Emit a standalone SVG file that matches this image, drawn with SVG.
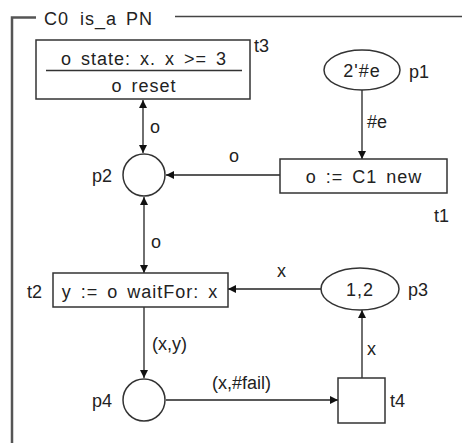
<svg xmlns="http://www.w3.org/2000/svg" width="468" height="443" viewBox="0 0 468 443">
<defs>
<marker id="ah" viewBox="0 0 10 10" refX="10" refY="5" markerWidth="9" markerHeight="8" markerUnits="userSpaceOnUse" orient="auto-start-reverse">
<path d="M0,0 L10,5 L0,10 z" fill="#111"/>
</marker>
</defs>
<style>
text{font-family:"Liberation Sans",Arial,sans-serif;font-size:18px;fill:#222}
.c{text-anchor:middle;letter-spacing:1px;word-spacing:3px}
.n{fill:#fff;stroke:#333;stroke-width:1.5}
.e{fill:none;stroke:#222;stroke-width:1.3}
</style>
<rect width="468" height="443" fill="#fff"/>
<g id="frame">
<path d="M12,443 V17.5 H36" fill="none" stroke="#555" stroke-width="2.5"/>
<path d="M175,16.5 H462" fill="none" stroke="#444" stroke-width="1.3"/>
<text y="25" style="letter-spacing:1px"><tspan x="44">C0</tspan><tspan x="80">is_a</tspan><tspan x="126">PN</tspan></text>
</g>
<g id="connectors">
<line class="e" x1="143" y1="100" x2="143" y2="153" marker-start="url(#ah)" marker-end="url(#ah)"/>
<line class="e" x1="362" y1="90" x2="362" y2="159" marker-end="url(#ah)"/>
<line class="e" x1="280" y1="175" x2="166" y2="175" marker-end="url(#ah)"/>
<line class="e" x1="144" y1="197" x2="144" y2="273" marker-start="url(#ah)" marker-end="url(#ah)"/>
<line class="e" x1="321" y1="289" x2="228" y2="289" marker-end="url(#ah)"/>
<line class="e" x1="144" y1="307" x2="144" y2="378" marker-end="url(#ah)"/>
<line class="e" x1="166" y1="400" x2="338" y2="400" marker-end="url(#ah)"/>
<line class="e" x1="362" y1="378" x2="362" y2="310" marker-end="url(#ah)"/>
<text x="150" y="133">o</text>
<text x="367" y="128">#e</text>
<text x="229" y="162">o</text>
<text x="151" y="248">o</text>
<text x="277" y="277">x</text>
<text x="152" y="350">(x,y)</text>
<text x="212" y="389">(x,#fail)</text>
<text x="367" y="355">x</text>
</g>
<g id="t3">
<rect class="n" x="36" y="40" width="214" height="59"/>
<line x1="46" y1="70.5" x2="242" y2="70.5" stroke="#333" stroke-width="1.5"/>
<text class="c" x="144" y="65">o state: x. x &gt;= 3</text>
<text class="c" x="144" y="92">o reset</text>
<text x="254" y="52">t3</text>
</g>
<g id="p1">
<ellipse class="n" cx="362" cy="70" rx="38" ry="20"/>
<text class="c" x="362" y="77">2'#e</text>
<text x="409" y="78">p1</text>
</g>
<g id="t1">
<rect class="n" x="280" y="159" width="167" height="34"/>
<text class="c" x="364" y="183">o := C1 new</text>
<text x="434" y="222">t1</text>
</g>
<g id="p2">
<circle class="n" cx="144" cy="175" r="21"/>
<text x="92" y="182">p2</text>
</g>
<g id="t2">
<rect class="n" x="53" y="273" width="175" height="34"/>
<text class="c" x="140" y="298">y := o waitFor: x</text>
<text x="27" y="298">t2</text>
</g>
<g id="p3">
<ellipse class="n" cx="360" cy="289" rx="39" ry="21"/>
<text class="c" x="360" y="296">1,2</text>
<text x="408" y="296">p3</text>
</g>
<g id="p4">
<circle class="n" cx="144" cy="400" r="21"/>
<text x="92" y="407">p4</text>
</g>
<g id="t4">
<rect class="n" x="338" y="378" width="47" height="45"/>
<text x="390" y="407">t4</text>
</g>
</svg>
